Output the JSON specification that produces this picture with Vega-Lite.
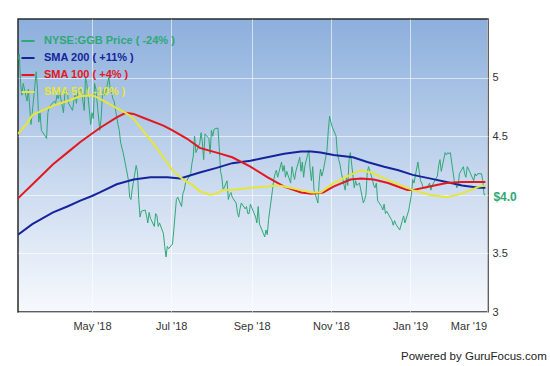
{
"$schema": "https://vega.github.io/schema/vega-lite/v6.json",
"width": 470, "height": 293,
"padding": {"left": 18, "top": 19, "right": 2, "bottom": 2},
"autosize": {"type": "pad"},
"background": "white",
"view": {"fill": {"gradient": "linear", "x1": 0, "y1": 0, "x2": 0, "y2": 1, "stops": [{"offset": 0, "color": "#8cafdc"}, {"offset": 0.55, "color": "#c9d9ef"}, {"offset": 1, "color": "#f7f9fd"}]}, "stroke": "#2b2b2b", "strokeWidth": 1.5},
"title": {"text": "Powered by GuruFocus.com", "orient": "bottom", "anchor": "end", "fontSize": 11.5, "fontWeight": "normal", "font": "Liberation Sans", "color": "#222", "offset": 20, "dx": 30},
"config": {"font": "Liberation Sans"},
"datasets": {
"price": [
{"d":"2018-03-05","v":5.15},{"d":"2018-03-06","v":5.2},{"d":"2018-03-07","v":4.95},{"d":"2018-03-08","v":4.85},{"d":"2018-03-09","v":4.95},
{"d":"2018-03-12","v":4.8},{"d":"2018-03-13","v":4.9},{"d":"2018-03-14","v":4.75},{"d":"2018-03-15","v":4.6},{"d":"2018-03-16","v":4.7},
{"d":"2018-03-19","v":5.05},{"d":"2018-03-20","v":4.9},{"d":"2018-03-21","v":4.62},{"d":"2018-03-22","v":4.7},{"d":"2018-03-23","v":4.55},
{"d":"2018-03-26","v":4.5},{"d":"2018-03-27","v":4.48},{"d":"2018-03-28","v":4.7},{"d":"2018-03-29","v":4.75},
{"d":"2018-04-02","v":4.8},{"d":"2018-04-03","v":4.78},{"d":"2018-04-04","v":4.85},{"d":"2018-04-05","v":4.82},{"d":"2018-04-06","v":4.88},
{"d":"2018-04-09","v":4.7},{"d":"2018-04-10","v":4.85},{"d":"2018-04-11","v":4.9},{"d":"2018-04-12","v":4.88},{"d":"2018-04-13","v":4.78},
{"d":"2018-04-16","v":4.72},{"d":"2018-04-17","v":4.8},{"d":"2018-04-18","v":4.85},{"d":"2018-04-19","v":4.78},{"d":"2018-04-20","v":4.88},
{"d":"2018-04-23","v":4.9},{"d":"2018-04-24","v":4.8},{"d":"2018-04-25","v":4.72},{"d":"2018-04-26","v":5.0},{"d":"2018-04-27","v":4.95},
{"d":"2018-04-30","v":4.6},{"d":"2018-05-01","v":4.7},{"d":"2018-05-02","v":4.65},{"d":"2018-05-03","v":4.95},{"d":"2018-05-04","v":4.9},
{"d":"2018-05-07","v":4.55},{"d":"2018-05-08","v":4.65},{"d":"2018-05-09","v":4.85},{"d":"2018-05-10","v":4.9},{"d":"2018-05-11","v":4.85},
{"d":"2018-05-14","v":5.0},{"d":"2018-05-15","v":4.9},{"d":"2018-05-16","v":4.88},{"d":"2018-05-17","v":4.82},{"d":"2018-05-18","v":4.8},
{"d":"2018-05-21","v":4.6},{"d":"2018-05-22","v":4.55},{"d":"2018-05-23","v":4.45},{"d":"2018-05-24","v":4.4},{"d":"2018-05-25","v":4.36},
{"d":"2018-05-29","v":4.13},{"d":"2018-05-30","v":3.98},{"d":"2018-05-31","v":3.96},{"d":"2018-06-01","v":4.05},
{"d":"2018-06-04","v":4.25},{"d":"2018-06-05","v":4.2},{"d":"2018-06-06","v":3.96},{"d":"2018-06-07","v":3.81},{"d":"2018-06-08","v":3.86},
{"d":"2018-06-11","v":3.87},{"d":"2018-06-12","v":3.82},{"d":"2018-06-13","v":3.76},{"d":"2018-06-14","v":3.85},{"d":"2018-06-15","v":3.8},
{"d":"2018-06-18","v":3.73},{"d":"2018-06-19","v":3.84},{"d":"2018-06-20","v":3.82},{"d":"2018-06-21","v":3.73},{"d":"2018-06-22","v":3.76},
{"d":"2018-06-25","v":3.67},{"d":"2018-06-26","v":3.56},{"d":"2018-06-27","v":3.47},{"d":"2018-06-28","v":3.56},{"d":"2018-06-29","v":3.54},
{"d":"2018-07-02","v":3.58},{"d":"2018-07-03","v":3.7},{"d":"2018-07-05","v":3.96},{"d":"2018-07-06","v":3.98},
{"d":"2018-07-09","v":3.9},{"d":"2018-07-10","v":4.01},{"d":"2018-07-11","v":4.04},{"d":"2018-07-12","v":4.1},{"d":"2018-07-13","v":4.12},
{"d":"2018-07-16","v":4.18},{"d":"2018-07-17","v":4.27},{"d":"2018-07-18","v":4.33},{"d":"2018-07-19","v":4.5},{"d":"2018-07-20","v":4.36},
{"d":"2018-07-23","v":4.44},{"d":"2018-07-24","v":4.53},{"d":"2018-07-25","v":4.45},{"d":"2018-07-26","v":4.3},{"d":"2018-07-27","v":4.52},
{"d":"2018-07-30","v":4.48},{"d":"2018-07-31","v":4.35},{"d":"2018-08-01","v":4.55},{"d":"2018-08-02","v":4.5},{"d":"2018-08-03","v":4.56},
{"d":"2018-08-06","v":4.57},{"d":"2018-08-07","v":4.4},{"d":"2018-08-08","v":4.2},{"d":"2018-08-09","v":4.15},{"d":"2018-08-10","v":4.04},
{"d":"2018-08-13","v":4.12},{"d":"2018-08-14","v":3.96},{"d":"2018-08-15","v":4.0},{"d":"2018-08-16","v":4.02},{"d":"2018-08-17","v":3.98},
{"d":"2018-08-20","v":3.93},{"d":"2018-08-21","v":3.85},{"d":"2018-08-22","v":3.81},{"d":"2018-08-23","v":3.88},{"d":"2018-08-24","v":3.93},
{"d":"2018-08-27","v":3.88},{"d":"2018-08-28","v":3.9},{"d":"2018-08-29","v":3.84},{"d":"2018-08-30","v":3.84},{"d":"2018-08-31","v":3.92},
{"d":"2018-09-04","v":3.81},{"d":"2018-09-05","v":3.76},{"d":"2018-09-06","v":3.9},{"d":"2018-09-07","v":3.75},
{"d":"2018-09-10","v":3.67},{"d":"2018-09-11","v":3.64},{"d":"2018-09-12","v":3.7},{"d":"2018-09-13","v":3.66},{"d":"2018-09-14","v":3.79},
{"d":"2018-09-17","v":4.04},{"d":"2018-09-18","v":4.13},{"d":"2018-09-19","v":4.18},{"d":"2018-09-20","v":4.21},{"d":"2018-09-21","v":4.15},
{"d":"2018-09-24","v":4.28},{"d":"2018-09-25","v":4.2},{"d":"2018-09-26","v":4.25},{"d":"2018-09-27","v":4.15},{"d":"2018-09-28","v":4.2},
{"d":"2018-10-01","v":4.1},{"d":"2018-10-02","v":4.24},{"d":"2018-10-03","v":4.18},{"d":"2018-10-04","v":4.13},{"d":"2018-10-05","v":4.2},
{"d":"2018-10-08","v":4.32},{"d":"2018-10-09","v":4.2},{"d":"2018-10-10","v":4.28},{"d":"2018-10-11","v":4.15},{"d":"2018-10-12","v":4.25},
{"d":"2018-10-15","v":4.38},{"d":"2018-10-16","v":4.22},{"d":"2018-10-17","v":4.12},{"d":"2018-10-18","v":4.24},{"d":"2018-10-19","v":4.04},
{"d":"2018-10-22","v":3.93},{"d":"2018-10-23","v":4.12},{"d":"2018-10-24","v":4.22},{"d":"2018-10-25","v":4.16},{"d":"2018-10-26","v":4.2},
{"d":"2018-10-29","v":4.38},{"d":"2018-10-30","v":4.55},{"d":"2018-10-31","v":4.67},{"d":"2018-11-01","v":4.62},{"d":"2018-11-02","v":4.58},
{"d":"2018-11-05","v":4.5},{"d":"2018-11-06","v":4.35},{"d":"2018-11-07","v":4.3},{"d":"2018-11-08","v":4.26},{"d":"2018-11-09","v":4.19},
{"d":"2018-11-12","v":4.04},{"d":"2018-11-13","v":4.15},{"d":"2018-11-14","v":4.08},{"d":"2018-11-15","v":4.3},{"d":"2018-11-16","v":4.36},
{"d":"2018-11-19","v":4.06},{"d":"2018-11-20","v":4.12},{"d":"2018-11-21","v":4.08},{"d":"2018-11-23","v":4.1},
{"d":"2018-11-26","v":3.93},{"d":"2018-11-27","v":3.96},{"d":"2018-11-28","v":4.0},{"d":"2018-11-29","v":4.19},{"d":"2018-11-30","v":4.24},
{"d":"2018-12-03","v":4.13},{"d":"2018-12-04","v":4.08},{"d":"2018-12-05","v":4.06},{"d":"2018-12-06","v":4.1},{"d":"2018-12-07","v":3.95},
{"d":"2018-12-10","v":3.9},{"d":"2018-12-11","v":3.87},{"d":"2018-12-12","v":3.92},{"d":"2018-12-13","v":3.84},{"d":"2018-12-14","v":3.86},
{"d":"2018-12-17","v":3.8},{"d":"2018-12-18","v":3.78},{"d":"2018-12-19","v":3.74},{"d":"2018-12-20","v":3.78},{"d":"2018-12-21","v":3.75},
{"d":"2018-12-24","v":3.7},{"d":"2018-12-26","v":3.78},{"d":"2018-12-27","v":3.82},{"d":"2018-12-28","v":3.76},{"d":"2018-12-31","v":3.87},
{"d":"2019-01-02","v":4.0},{"d":"2019-01-03","v":4.13},{"d":"2019-01-04","v":4.1},
{"d":"2019-01-07","v":4.28},{"d":"2019-01-08","v":4.2},{"d":"2019-01-09","v":4.12},{"d":"2019-01-10","v":4.1},{"d":"2019-01-11","v":4.06},
{"d":"2019-01-14","v":4.06},{"d":"2019-01-15","v":4.08},{"d":"2019-01-16","v":4.1},{"d":"2019-01-17","v":4.04},{"d":"2019-01-18","v":4.08},
{"d":"2019-01-22","v":4.16},{"d":"2019-01-23","v":4.25},{"d":"2019-01-24","v":4.3},{"d":"2019-01-25","v":4.2},
{"d":"2019-01-28","v":4.36},{"d":"2019-01-29","v":4.34},{"d":"2019-01-30","v":4.36},{"d":"2019-01-31","v":4.35},{"d":"2019-02-01","v":4.36},
{"d":"2019-02-04","v":4.12},{"d":"2019-02-05","v":4.1},{"d":"2019-02-06","v":4.06},{"d":"2019-02-07","v":4.08},{"d":"2019-02-08","v":4.18},
{"d":"2019-02-11","v":4.24},{"d":"2019-02-12","v":4.18},{"d":"2019-02-13","v":4.15},{"d":"2019-02-14","v":4.24},{"d":"2019-02-15","v":4.22},
{"d":"2019-02-19","v":4.12},{"d":"2019-02-20","v":4.18},{"d":"2019-02-21","v":4.16},{"d":"2019-02-22","v":4.18},
{"d":"2019-02-25","v":4.18},{"d":"2019-02-26","v":4.12},{"d":"2019-02-27","v":4.0},{"d":"2019-02-28","v":4.0}
],
"sma": [
{"s":"S200","d":"2018-03-05","v":3.66},{"s":"S200","d":"2018-03-16","v":3.75},{"s":"S200","d":"2018-04-01","v":3.85},{"s":"S200","d":"2018-04-12","v":3.9},
{"s":"S200","d":"2018-04-22","v":3.95},{"s":"S200","d":"2018-05-01","v":3.99},{"s":"S200","d":"2018-05-07","v":4.02},{"s":"S200","d":"2018-05-20","v":4.09},
{"s":"S200","d":"2018-06-02","v":4.13},{"s":"S200","d":"2018-06-15","v":4.15},{"s":"S200","d":"2018-06-28","v":4.15},{"s":"S200","d":"2018-07-08","v":4.14},
{"s":"S200","d":"2018-07-23","v":4.19},{"s":"S200","d":"2018-08-05","v":4.23},{"s":"S200","d":"2018-08-17","v":4.27},{"s":"S200","d":"2018-08-31","v":4.29},
{"s":"S200","d":"2018-09-13","v":4.32},{"s":"S200","d":"2018-09-26","v":4.35},{"s":"S200","d":"2018-10-09","v":4.37},{"s":"S200","d":"2018-10-17","v":4.37},
{"s":"S200","d":"2018-10-24","v":4.36},{"s":"S200","d":"2018-11-03","v":4.34},{"s":"S200","d":"2018-11-18","v":4.32},{"s":"S200","d":"2018-11-29","v":4.28},
{"s":"S200","d":"2018-12-12","v":4.24},{"s":"S200","d":"2018-12-23","v":4.21},{"s":"S200","d":"2019-01-03","v":4.17},{"s":"S200","d":"2019-01-16","v":4.14},
{"s":"S200","d":"2019-01-29","v":4.11},{"s":"S200","d":"2019-02-10","v":4.08},{"s":"S200","d":"2019-02-23","v":4.06},{"s":"S200","d":"2019-02-28","v":4.06},
{"s":"S100","d":"2018-03-05","v":3.97},{"s":"S100","d":"2018-03-20","v":4.13},{"s":"S100","d":"2018-04-01","v":4.26},{"s":"S100","d":"2018-04-12","v":4.36},
{"s":"S100","d":"2018-04-22","v":4.45},{"s":"S100","d":"2018-05-07","v":4.57},{"s":"S100","d":"2018-05-20","v":4.66},{"s":"S100","d":"2018-05-27","v":4.7},
{"s":"S100","d":"2018-06-02","v":4.69},{"s":"S100","d":"2018-06-09","v":4.66},{"s":"S100","d":"2018-06-25","v":4.59},{"s":"S100","d":"2018-07-02","v":4.55},
{"s":"S100","d":"2018-07-13","v":4.48},{"s":"S100","d":"2018-07-23","v":4.4},{"s":"S100","d":"2018-08-05","v":4.36},{"s":"S100","d":"2018-08-17","v":4.32},
{"s":"S100","d":"2018-08-31","v":4.24},{"s":"S100","d":"2018-09-13","v":4.15},{"s":"S100","d":"2018-09-26","v":4.07},{"s":"S100","d":"2018-10-09","v":4.02},
{"s":"S100","d":"2018-10-17","v":4.01},{"s":"S100","d":"2018-10-26","v":4.02},{"s":"S100","d":"2018-11-03","v":4.07},{"s":"S100","d":"2018-11-16","v":4.13},
{"s":"S100","d":"2018-11-24","v":4.14},{"s":"S100","d":"2018-12-04","v":4.13},{"s":"S100","d":"2018-12-15","v":4.1},{"s":"S100","d":"2018-12-25","v":4.06},
{"s":"S100","d":"2018-12-30","v":4.04},{"s":"S100","d":"2019-01-03","v":4.04},{"s":"S100","d":"2019-01-16","v":4.07},{"s":"S100","d":"2019-01-29","v":4.1},
{"s":"S100","d":"2019-02-10","v":4.11},{"s":"S100","d":"2019-02-28","v":4.11},
{"s":"S50","d":"2018-03-05","v":4.52},{"s":"S50","d":"2018-03-12","v":4.61},{"s":"S50","d":"2018-03-16","v":4.68},{"s":"S50","d":"2018-03-24","v":4.72},
{"s":"S50","d":"2018-04-01","v":4.76},{"s":"S50","d":"2018-04-12","v":4.8},{"s":"S50","d":"2018-04-22","v":4.84},{"s":"S50","d":"2018-05-01","v":4.85},
{"s":"S50","d":"2018-05-07","v":4.82},{"s":"S50","d":"2018-05-15","v":4.77},{"s":"S50","d":"2018-05-20","v":4.74},{"s":"S50","d":"2018-05-27","v":4.7},
{"s":"S50","d":"2018-06-02","v":4.65},{"s":"S50","d":"2018-06-09","v":4.55},{"s":"S50","d":"2018-06-17","v":4.44},{"s":"S50","d":"2018-06-25","v":4.32},
{"s":"S50","d":"2018-07-02","v":4.21},{"s":"S50","d":"2018-07-08","v":4.15},{"s":"S50","d":"2018-07-13","v":4.11},{"s":"S50","d":"2018-07-18","v":4.08},
{"s":"S50","d":"2018-07-23","v":4.03},{"s":"S50","d":"2018-07-31","v":4.0},{"s":"S50","d":"2018-08-05","v":4.01},{"s":"S50","d":"2018-08-10","v":4.04},
{"s":"S50","d":"2018-08-17","v":4.04},{"s":"S50","d":"2018-08-31","v":4.06},{"s":"S50","d":"2018-09-13","v":4.07},{"s":"S50","d":"2018-09-21","v":4.08},
{"s":"S50","d":"2018-09-26","v":4.07},{"s":"S50","d":"2018-10-09","v":4.04},{"s":"S50","d":"2018-10-17","v":4.02},{"s":"S50","d":"2018-10-24","v":4.02},
{"s":"S50","d":"2018-11-03","v":4.1},{"s":"S50","d":"2018-11-16","v":4.17},{"s":"S50","d":"2018-11-24","v":4.21},{"s":"S50","d":"2018-12-02","v":4.19},
{"s":"S50","d":"2018-12-12","v":4.14},{"s":"S50","d":"2018-12-25","v":4.08},{"s":"S50","d":"2019-01-03","v":4.04},{"s":"S50","d":"2019-01-16","v":4.0},
{"s":"S50","d":"2019-01-29","v":3.98},{"s":"S50","d":"2019-02-10","v":4.01},{"s":"S50","d":"2019-02-23","v":4.07},{"s":"S50","d":"2019-02-28","v":4.08}
],
"last": [{"d":"2019-02-28","v":4.0,"t":"$4.0"}]
},
"encoding": {
"x": {"field": "d", "type": "temporal",
 "scale": {"type": "utc", "domain": [{"year": 2018, "month": 3, "date": 5, "utc": true}, {"year": 2019, "month": 3, "date": 2, "utc": true}]},
 "axis": {"title": null, "values": [{"year": 2018, "month": 5, "date": 1, "utc": true}, {"year": 2018, "month": 7, "date": 1, "utc": true}, {"year": 2018, "month": 9, "date": 1, "utc": true}, {"year": 2018, "month": 11, "date": 1, "utc": true}, {"year": 2019, "month": 1, "date": 1, "utc": true}, {"year": 2019, "month": 3, "date": 1, "utc": true}],
  "format": "%b '%y", "labelFlush": 3, "ticks": false, "domain": false, "grid": true, "gridColor": "#ffffff", "gridOpacity": 0.6, "gridWidth": 1, "labelPadding": 8, "labelFontSize": 11, "labelColor": "#333333", "labelFont": "Liberation Sans"}},
"y": {"field": "v", "type": "quantitative",
 "scale": {"domain": [3, 5.5], "nice": false, "zero": false},
 "axis": {"orient": "right", "title": null, "values": [3, 3.5, 4, 4.5, 5], "labelExpr": "datum.value == 4 ? '' : '' + datum.value", "ticks": false, "domain": false, "grid": true, "gridColor": "#ffffff", "gridOpacity": 0.6, "gridWidth": 1, "labelPadding": 4, "labelFontSize": 11, "labelColor": "#333333", "labelFont": "Liberation Sans"}}
},
"layer": [
{"data": {"name": "price"},
 "transform": [{"calculate": "'P'", "as": "s"}],
 "mark": {"type": "line", "strokeWidth": 1, "clip": true},
 "encoding": {"color": {"field": "s", "type": "nominal",
   "scale": {"domain": ["P", "S200", "S100", "S50"], "range": ["#2fa875", "#16249c", "#e2181f", "#e6e63a"]},
   "legend": {"orient": "none", "legendX": 2, "legendY": 14, "title": null, "symbolType": "stroke", "symbolSize": 170, "symbolStrokeWidth": 2, "labelFontSize": 11, "labelFontWeight": "bold", "labelFont": "Liberation Sans", "labelOffset": 8, "rowPadding": 4, "padding": 0,
    "labelExpr": "datum.label == 'P' ? 'NYSE:GGB Price ( -24% )' : datum.label == 'S200' ? 'SMA 200 ( +11% )' : datum.label == 'S100' ? 'SMA 100 ( +4% )' : 'SMA 50 ( -10% )'",
    "encode": {"labels": {"update": {"fill": {"scale": "color", "field": "value"}}}}}}}},
{"data": {"name": "sma"},
 "mark": {"type": "line", "strokeWidth": 2, "clip": true},
 "encoding": {"color": {"field": "s", "type": "nominal"}}},
{"data": {"name": "last"},
 "mark": {"type": "text", "align": "left", "baseline": "middle", "dx": 8, "dy": 2, "fontSize": 12, "fontWeight": "bold", "color": "#2fa875", "font": "Liberation Sans"},
 "encoding": {"text": {"field": "t"}}}
]
}
